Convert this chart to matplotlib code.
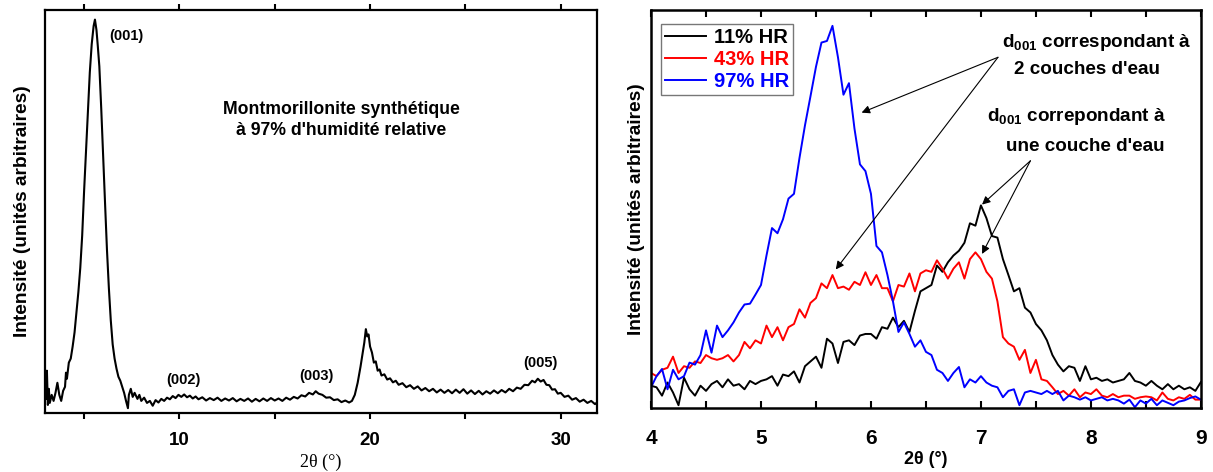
import numpy as np
import matplotlib
matplotlib.use("Agg")
import matplotlib.pyplot as plt
from matplotlib.ticker import MultipleLocator

plt.rcParams['font.family'] = ['Liberation Sans', 'DejaVu Sans']
plt.rcParams['font.weight'] = 'bold'
plt.rcParams['mathtext.fontset'] = 'custom'
plt.rcParams['mathtext.rm'] = 'Liberation Sans:bold'
plt.rcParams['mathtext.bf'] = 'Liberation Sans:bold'

# ---- left panel : diffractogramme complet (intensité en % de la hauteur)
x_left = [3.0, 3.05, 3.1, 3.15, 3.2, 3.3, 3.4, 3.5, 3.6, 3.7, 3.8, 3.9, 4.0, 4.05, 4.1, 4.2, 4.3,
          4.4, 4.5, 4.6, 4.7, 4.8, 4.9, 5.0, 5.1, 5.2, 5.3, 5.4, 5.5, 5.57, 5.65, 5.72, 5.8, 5.9,
          6.0, 6.1, 6.2, 6.3, 6.4, 6.5, 6.6, 6.7, 6.8, 6.9, 7.0, 7.1, 7.2, 7.3, 7.35, 7.45, 7.55,
          7.65, 7.8, 7.9, 8.0, 8.15, 8.3, 8.45, 8.6, 8.75, 8.9, 9.05, 9.2, 9.35, 9.5, 9.65, 9.8,
          9.95, 10.1, 10.25, 10.4, 10.55, 10.7, 10.85, 11.0, 11.2, 11.4, 11.6, 11.8, 12.0, 12.2,
          12.4, 12.6, 12.8, 13.0, 13.2, 13.4, 13.6, 13.8, 14.0, 14.2, 14.4, 14.6, 14.8, 15.0,
          15.2, 15.4, 15.6, 15.8, 16.0, 16.2, 16.4, 16.6, 16.8, 17.0, 17.15, 17.3, 17.5, 17.7,
          17.9, 18.1, 18.3, 18.5, 18.7, 18.9, 19.05, 19.2, 19.35, 19.5, 19.6, 19.7, 19.78, 19.85,
          19.92, 20.0, 20.1, 20.2, 20.3, 20.4, 20.5, 20.6, 20.75, 20.9, 21.05, 21.2, 21.35, 21.5,
          21.7, 21.9, 22.1, 22.3, 22.5, 22.7, 22.9, 23.1, 23.3, 23.5, 23.7, 23.9, 24.1, 24.3,
          24.5, 24.7, 24.9, 25.1, 25.3, 25.5, 25.7, 25.9, 26.1, 26.3, 26.5, 26.7, 26.9, 27.1,
          27.3, 27.5, 27.7, 27.9, 28.1, 28.3, 28.5, 28.65, 28.8, 28.95, 29.1, 29.25, 29.4, 29.55,
          29.7, 29.85, 30.0, 30.2, 30.4, 30.6, 30.8, 31.0, 31.2, 31.4, 31.6, 31.8, 31.9]
y_left = [3.5, 10.5, 2.0, 6.0, 2.5, 4.5, 3.0, 5.0, 7.5, 4.5, 3.0, 5.5, 6.5, 10.0, 8.5, 12.5, 13.5,
          16.5, 20.0, 25.0, 30.0, 36.0, 44.0, 55.0, 65.0, 75.5, 84.5, 91.5, 96.0, 97.6, 95.0, 91.0,
          86.0, 75.5, 63.5, 52.0, 40.5, 31.0, 23.0, 17.0, 13.5, 11.0, 9.0, 8.0, 6.5, 5.0, 3.0, 1.2,
          4.5, 6.0, 4.0, 5.0, 3.5, 4.5, 3.0, 3.8, 2.5, 3.0, 1.8, 3.2, 2.6, 3.5, 3.0, 3.8, 3.4, 4.2,
          3.7, 4.5, 4.0, 4.6, 3.9, 4.3, 3.6, 4.1, 3.4, 3.9, 3.1, 3.7, 3.2, 3.8, 3.0, 3.6, 3.1, 3.7,
          2.9, 3.5, 3.0, 3.6, 2.8, 3.5, 2.9, 3.6, 3.0, 3.7, 3.1, 3.6, 3.0, 3.8, 3.3, 4.0, 3.6, 4.4,
          4.1, 5.0, 4.6, 5.4, 4.8, 4.5, 3.8, 3.9, 3.2, 3.4, 2.7, 3.1, 2.6, 3.0, 4.5, 7.5, 11.5,
          14.5, 17.5, 20.8, 19.0, 19.5, 16.5, 15.0, 12.5, 12.8, 10.5, 10.8, 9.3, 9.6, 8.3, 8.6,
          7.6, 8.0, 7.0, 7.4, 6.4, 6.9, 6.0, 6.6, 5.6, 6.2, 5.4, 6.0, 5.1, 5.8, 5.0, 5.7, 4.9, 5.8,
          5.0, 5.9, 4.8, 5.6, 4.7, 5.5, 4.6, 5.4, 4.8, 5.6, 4.9, 5.7, 5.1, 6.0, 5.4, 6.3, 6.0, 7.0,
          6.9, 8.0, 7.6, 8.5, 7.8, 8.2, 7.0, 6.9, 5.8, 5.9, 4.8, 5.0, 4.0, 4.3, 3.3, 3.7, 2.8, 3.3,
          2.5, 3.0, 2.2, 2.6]

peak_labels = ['(001)', '(002)', '(003)', '(005)']
peak_x = [7.2, 10.2, 17.2, 28.95]
peak_y = [93.5, 8.3, 9.1, 12.5]

# ---- right panel : zoom 4-9 degrés, trois humidités relatives
x_right = [4.0, 4.05, 4.1, 4.15, 4.2, 4.25, 4.3, 4.35, 4.4, 4.45, 4.5, 4.55, 4.6, 4.65, 4.7, 4.75,
           4.8, 4.85, 4.9, 4.95, 5.0, 5.05, 5.1, 5.15, 5.2, 5.25, 5.3, 5.35, 5.4, 5.45, 5.5, 5.55,
           5.6, 5.65, 5.7, 5.75, 5.8, 5.85, 5.9, 5.95, 6.0, 6.05, 6.1, 6.15, 6.2, 6.25, 6.3, 6.35,
           6.4, 6.45, 6.5, 6.55, 6.6, 6.65, 6.7, 6.75, 6.8, 6.85, 6.9, 6.95, 7.0, 7.05, 7.1, 7.15,
           7.2, 7.25, 7.3, 7.35, 7.4, 7.45, 7.5, 7.55, 7.6, 7.65, 7.7, 7.75, 7.8, 7.85, 7.9, 7.95,
           8.0, 8.05, 8.1, 8.15, 8.2, 8.25, 8.3, 8.35, 8.4, 8.45, 8.5, 8.55, 8.6, 8.65, 8.7, 8.75,
           8.8, 8.85, 8.9, 8.95, 9.0]
hr11 = [5.6, 5.2, 3.1, 6.4, 3.9, 0.7, 7.6, 4.7, 3.1, 5.6, 4.3, 6.0, 6.8, 5.2, 7.2, 5.6,
        6.0, 4.7, 6.8, 6.0, 6.8, 7.2, 8.0, 5.6, 8.4, 8.0, 9.2, 6.4, 10.5, 11.7, 12.9, 10.1,
        17.4, 16.2, 11.3, 16.6, 17.0, 15.8, 18.2, 18.6, 18.6, 17.4, 20.3, 19.9, 22.7, 20.3, 21.9, 19.1,
        24.4, 29.3, 30.1, 30.9, 35.8, 34.2, 36.6, 38.3, 39.5, 41.5, 46.4, 45.8, 50.9, 47.7, 43.2, 42.8,
        37.4, 33.4, 29.3, 30.1, 25.2, 24.0, 21.1, 19.5, 17.0, 13.3, 10.9, 9.2, 10.5, 10.1, 6.8, 10.5,
        7.2, 7.6, 6.8, 7.2, 6.4, 6.8, 7.2, 8.8, 6.8, 6.4, 5.6, 6.8, 5.6, 4.7, 6.0, 4.7,
        5.6, 4.7, 5.2, 4.3, 6.5]
hr43 = [8.8, 8.0, 9.6, 10.1, 12.9, 8.8, 10.5, 10.1, 11.7, 11.3, 13.3, 12.5, 12.1, 12.5, 13.3, 11.7,
        13.3, 16.6, 15.0, 17.0, 16.2, 20.7, 17.8, 20.3, 17.0, 20.3, 21.1, 24.8, 22.7, 26.4, 27.6, 31.3,
        30.1, 33.4, 30.1, 30.5, 29.7, 31.7, 30.9, 34.1, 30.9, 33.4, 30.1, 30.1, 26.8, 30.9, 30.5, 33.8,
        29.3, 33.8, 34.6, 34.2, 37.1, 35.0, 32.5, 35.0, 36.6, 32.5, 37.4, 39.1, 37.4, 34.2, 32.5, 26.8,
        17.8, 16.2, 15.4, 12.1, 14.6, 8.8, 12.1, 7.2, 6.8, 5.2, 3.5, 4.3, 3.1, 4.7, 2.7, 3.9,
        3.5, 4.7, 3.1, 2.7, 3.5, 2.7, 3.1, 3.1, 2.3, 2.7, 2.9, 2.7, 1.9, 3.9, 2.3, 1.9,
        2.7, 2.3, 3.3, 2.1, 2.1]
hr97 = [5.2, 8.0, 9.8, 4.7, 9.6, 7.2, 8.0, 11.4, 10.9, 13.3, 19.5, 13.9, 20.7, 17.8, 19.5, 21.5,
        24.0, 26.0, 26.2, 28.5, 30.9, 38.3, 45.2, 43.9, 47.4, 52.6, 53.8, 62.8, 71.0, 78.3, 85.7, 91.8,
        92.2, 96.0, 88.1, 78.7, 81.6, 70.2, 61.2, 59.5, 53.8, 40.7, 39.1, 33.4, 26.8, 19.1, 21.5, 18.6,
        15.4, 17.0, 14.1, 13.3, 9.6, 8.8, 6.8, 8.8, 10.3, 5.2, 7.2, 6.4, 8.0, 6.4, 5.6, 5.2,
        2.7, 4.3, 4.7, 0.7, 3.9, 4.3, 3.9, 3.5, 4.3, 3.5, 4.3, 1.9, 3.1, 2.7, 2.1, 2.7,
        1.9, 2.3, 2.7, 1.9, 2.3, 1.9, 1.1, 2.1, 0.2, 1.9, 1.1, 2.3, 0.7, 1.9, 1.3, 0.7,
        1.6, 1.9, 2.5, 2.9, 2.1]
series_labels = ['11% HR', '43% HR', '97% HR']
series_colors = ['black', 'red', 'blue']

fig = plt.figure(figsize=(12.13, 4.72), dpi=100)
ax1 = fig.add_axes([0.0371, 0.125, 0.455, 0.854])
ax2 = fig.add_axes([0.5367, 0.1356, 0.4533, 0.8434])

# left
ax1.plot(x_left, y_left, color='black', lw=1.5)
ax1.set_xlim(2.95, 31.9)
ax1.set_ylim(0, 100)
ax1.set_yticks([])
ax1.xaxis.set_major_locator(MultipleLocator(10))
ax1.xaxis.set_minor_locator(MultipleLocator(5))
ax1.tick_params(axis='x', which='both', direction='out', top=True, length=4, width=1.5,
                labelsize=13.5, pad=10)
for lab in ax1.get_xticklabels():
    lab.set_fontweight('bold')
ax1.set_xlabel('2θ (°)', family=['Liberation Serif'], fontweight='normal', fontsize=13,
               labelpad=3)
ax1.set_ylabel('Intensité (unités arbitraires)', fontsize=13.8, fontweight='bold', labelpad=10)
for lab, px, py in zip(peak_labels, peak_x, peak_y):
    ax1.text(px, py, lab, ha='center', va='center', fontsize=10.5, fontweight='bold')
ax1.text(18.5, 72.7, "Montmorillonite synthétique\nà 97% d'humidité relative", ha='center',
         va='center', fontsize=12.7, fontweight='bold', linespacing=1.35)
for sp in ax1.spines.values():
    sp.set_linewidth(1.6)

# right
for yy, lab, col in zip([hr11, hr43, hr97], series_labels, series_colors):
    ax2.plot(x_right, yy, color=col, lw=1.4, label=lab)
ax2.set_xlim(4, 9)
ax2.set_ylim(0, 100)
ax2.set_yticks([])
ax2.xaxis.set_major_locator(MultipleLocator(1))
ax2.xaxis.set_minor_locator(MultipleLocator(0.5))
ax2.tick_params(axis='x', which='both', direction='in', top=True, length=5, width=1.5,
                labelsize=15, pad=15)
for lab in ax2.get_xticklabels():
    lab.set_fontweight('bold')
ax2.set_xlabel('2θ (°)', fontsize=13, fontweight='bold', labelpad=2)
ax2.set_ylabel('Intensité (unités arbitraires)', fontsize=13.8, fontweight='bold', labelpad=4)
for sp in ax2.spines.values():
    sp.set_linewidth(1.8)

leg = ax2.legend(loc='upper left', bbox_to_anchor=(0.008, 0.98), fontsize=14.5,
                 labelcolor='linecolor', frameon=True, fancybox=False, edgecolor='#555555',
                 handlelength=2.0, handletextpad=0.4, borderpad=0.2, labelspacing=0.15,
                 borderaxespad=0.3)
leg.get_frame().set_linewidth(1.0)
for t in leg.get_texts():
    t.set_fontweight('bold')

ax2.text(8.05, 91.8, r"d$_{001}$ correspondant à", ha='center', va='center', fontsize=13.6)
ax2.text(7.96, 85.1, "2 couches d'eau", ha='center', va='center', fontsize=13.6)
ax2.text(7.87, 73.3, r"d$_{001}$ correpondant à", ha='center', va='center', fontsize=13.6)
ax2.text(7.95, 65.8, "une couche d'eau", ha='center', va='center', fontsize=13.6)

arrow = dict(arrowstyle='-|>', lw=0.8, color='black', mutation_scale=12, shrinkA=0, shrinkB=0)
ax2.annotate('', xy=(5.915, 74.2), xytext=(7.155, 88.1), arrowprops=arrow)
ax2.annotate('', xy=(5.68, 34.8), xytext=(7.155, 88.1), arrowprops=arrow)
ax2.annotate('', xy=(7.01, 51.1), xytext=(7.45, 62.1), arrowprops=arrow)
ax2.annotate('', xy=(7.01, 38.7), xytext=(7.45, 62.1), arrowprops=arrow)

fig.savefig('out.png', dpi=100)
